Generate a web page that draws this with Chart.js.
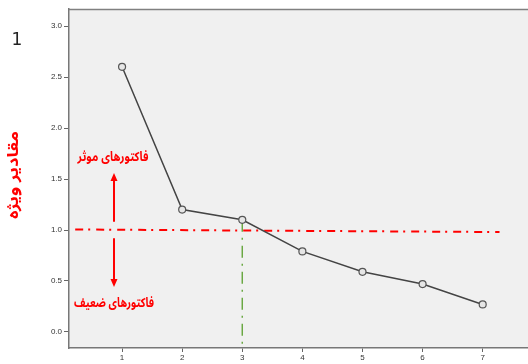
<!DOCTYPE html>
<html>
<head>
<meta charset="utf-8">
<style>
html,body{margin:0;padding:0;background:#fff;overflow:hidden;width:528px;height:364px;}
canvas{display:block;}
</style>
<script src="https://cdn.jsdelivr.net/npm/chart.js@4.4.1/dist/chart.umd.min.js"></script>
</head>
<body>
<canvas id="c" width="540" height="364"></canvas>
<script>
// Data
const components = [1, 2, 3, 4, 5, 6, 7];
const eigenvalues = [2.6, 1.2, 1.1, 0.79, 0.59, 0.47, 0.27];
const yTicks = [0, 0.5, 1.0, 1.5, 2.0, 2.5, 3.0];
const cutoffX = [0.22, 7.28];
const cutoffY = [1.005, 0.98];
const elbowX = 3;
const elbowTop = 1.1;
const yTitle = 'مقادیر ویژه';
const labelStrong = 'فاکتورهای موثر';
const labelWeak = 'فاکتورهای ضعیف';
const cornerLabel = '1';
// annotation anchors in data units
const arrowX = 0.867;
const upArrow = [1.08, 1.56];
const downArrow = [0.92, 0.44];
const strongLabelY = 1.696;
const weakLabelY = 0.265;

const arabicFont = '"Noto Sans Arabic", sans-serif';

function fitText(ctx, text, cx, cy, font, targetW) {
  ctx.font = font;
  const w = ctx.measureText(text).width;
  const s = targetW / w;
  ctx.save();
  ctx.translate(cx, cy);
  ctx.scale(s, 1);
  ctx.fillText(text, 0, 0);
  ctx.restore();
}

const decor = {
  id: 'decor',
  beforeDraw(chart) {
    const {ctx, chartArea: a} = chart;
    ctx.save();
    ctx.fillStyle = '#f0f0f0';
    ctx.fillRect(a.left, a.top, a.right - a.left, a.bottom - a.top);
    ctx.restore();
  },
  afterDraw(chart) {
    const {ctx, chartArea: a, scales} = chart;
    const xs = scales.x, ys = scales.y;
    ctx.save();
    ctx.strokeStyle = '#808080';
    ctx.lineWidth = 1.5;
    ctx.beginPath();
    ctx.moveTo(a.left, a.top + 0.5);
    ctx.lineTo(a.right, a.top + 0.5);
    ctx.stroke();

    ctx.strokeStyle = '#ff0000';
    ctx.fillStyle = '#ff0000';
    ctx.lineWidth = 2;
    const ax = Math.round(xs.getPixelForValue(arrowX));
    function arrow(y0, y1) {
      const p0 = ys.getPixelForValue(y0), p1 = ys.getPixelForValue(y1);
      const dir = p1 < p0 ? -1 : 1;
      ctx.beginPath();
      ctx.moveTo(ax, p0);
      ctx.lineTo(ax, p1 - dir * 6);
      ctx.stroke();
      ctx.beginPath();
      ctx.moveTo(ax, p1);
      ctx.lineTo(ax - 3.5, p1 - dir * 8);
      ctx.lineTo(ax + 3.5, p1 - dir * 8);
      ctx.closePath();
      ctx.fill();
    }
    arrow(upArrow[0], upArrow[1]);
    arrow(downArrow[0], downArrow[1]);

    ctx.textAlign = 'center';
    ctx.textBaseline = 'middle';
    fitText(ctx, labelStrong, ax - 1, ys.getPixelForValue(strongLabelY), 'bold 13px ' + arabicFont, 71);
    fitText(ctx, labelWeak, ax, ys.getPixelForValue(weakLabelY), 'bold 13px ' + arabicFont, 80);

    ctx.save();
    ctx.translate(16, 175);
    ctx.rotate(-Math.PI / 2);
    fitText(ctx, yTitle, 0, 0, 'bold 15px ' + arabicFont, 88);
    ctx.restore();

    ctx.fillStyle = '#222';
    ctx.font = '17px "DejaVu Sans ExtraLight", "DejaVu Sans", sans-serif';
    ctx.fillText(cornerLabel, 17, 41);
    ctx.restore();
  }
};

new Chart(document.getElementById('c'), {
  type: 'scatter',
  data: {
    datasets: [
      {
        label: 'cutoff',
        data: cutoffX.map((x, i) => ({x, y: cutoffY[i]})),
        showLine: true,
        borderColor: '#ff0000',
        borderWidth: 2,
        borderDash: [8, 5, 2, 6],
        pointRadius: 0,
        order: 3
      },
      {
        label: 'elbow',
        data: [{x: elbowX, y: elbowTop}, {x: elbowX, y: -0.157}],
        showLine: true,
        borderColor: '#6aa843',
        borderWidth: 1.5,
        borderDash: [12, 6, 2, 6],
        pointRadius: 0,
        order: 2
      },
      {
        label: 'eigen',
        data: components.map((x, i) => ({x, y: eigenvalues[i]})),
        showLine: true,
        borderColor: '#444444',
        borderWidth: 1.5,
        pointRadius: 3.5,
        pointBorderWidth: 1.2,
        pointBorderColor: '#555555',
        pointBackgroundColor: '#e6e6e6',
        order: 1
      }
    ]
  },
  options: {
    responsive: false,
    animation: false,
    layout: {padding: {top: 9, left: 0, right: 0, bottom: 0}},
    plugins: {legend: {display: false}, tooltip: {enabled: false}},
    scales: {
      x: {
        type: 'linear',
        min: 0.117,
        max: 7.867,
        afterBuildTicks: s => { s.ticks = components.map(v => ({value: v})); },
        afterFit: s => { s.height = 16; },
        ticks: {color: '#333', font: {family: '"Liberation Sans", Arial', size: 8}, padding: 1},
        grid: {drawOnChartArea: false, tickLength: 4, color: '#666'},
        border: {color: '#777', width: 1.5}
      },
      y: {
        min: -0.157,
        max: 3.167,
        afterBuildTicks: s => { s.ticks = yTicks.map(v => ({value: v})); },
        afterFit: s => { s.width = 69; },
        ticks: {color: '#333', font: {family: '"Liberation Sans", Arial', size: 8}, padding: 2, callback: v => v.toFixed(1)},
        grid: {drawOnChartArea: false, tickLength: 5, color: '#666'},
        border: {color: '#777', width: 1.5}
      }
    }
  },
  plugins: [decor]
});
</script>
</body>
</html>
